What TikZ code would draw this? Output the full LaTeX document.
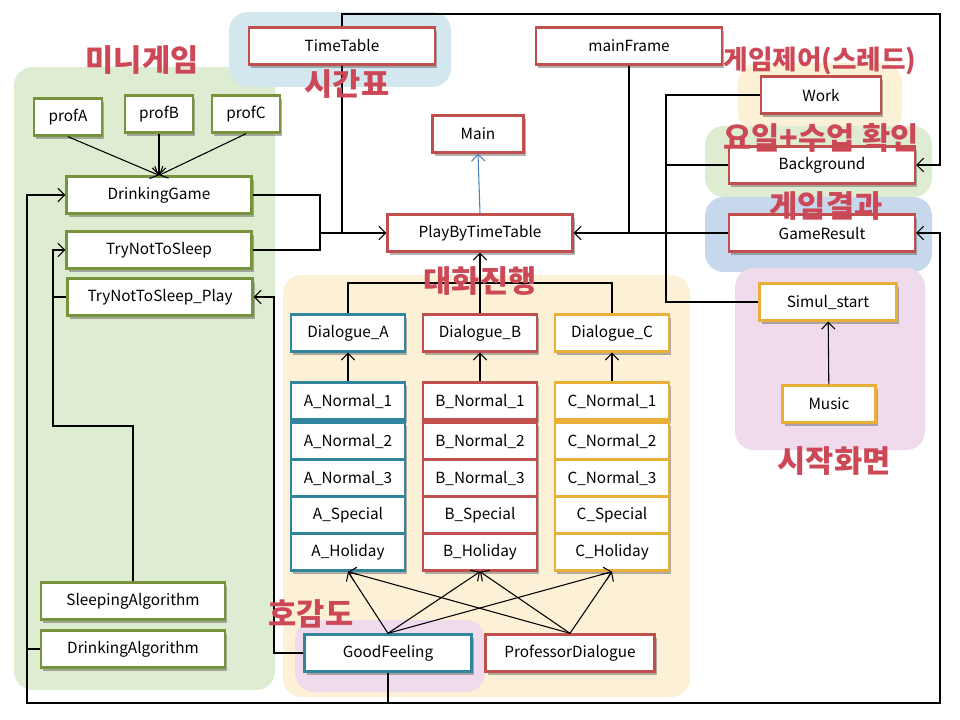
\documentclass[tikz,border=0pt]{standalone}
\usepackage{fontspec}
\setmainfont{Noto Sans CJK KR}
\usepackage{tikz}
\usetikzlibrary{arrows.meta}
\usetikzlibrary{shadows}

\definecolor{boxred}{RGB}{192,80,77}
\definecolor{boxgreen}{RGB}{119,147,60}
\definecolor{boxteal}{RGB}{49,133,156}
\definecolor{boxorange}{RGB}{232,176,56}
\definecolor{tagred}{RGB}{205,72,86}
\definecolor{arrowblue}{RGB}{79,129,189}
\definecolor{bggreen}{RGB}{222,236,209}
\definecolor{bgsky}{RGB}{211,232,238}
\definecolor{bgbeige}{RGB}{252,240,215}
\definecolor{bgblue}{RGB}{199,215,236}
\definecolor{bgpink}{RGB}{240,219,236}

\begin{document}
\begin{tikzpicture}[x=0.75pt,y=-0.75pt,line width=0.8pt,
	>={Straight Barb[length=5pt,width=10pt]},
	box/.style={draw,fill=white,line width=1.8pt,inner sep=0pt,minimum height=27.75pt,
		font=\fontsize{11.5}{13}\selectfont,
		drop shadow={shadow xshift=1.5pt,shadow yshift=-2.4pt,fill=black!60,opacity=0.5}},
	redbox/.style={box,draw=boxred},
	greenbox/.style={box,draw=boxgreen},
	tealbox/.style={box,draw=boxteal},
	orangebox/.style={box,draw=boxorange},
	area/.style={fill=#1,rounded corners=14pt},
	tag/.style={text=tagred,inner sep=0pt,font=\fontsize{23}{23}\selectfont\bfseries}]
			\useasboundingbox (0,0) rectangle (960,720);
			
			% areas
			
			\fill[area=bggreen] (14,67) rectangle (275,690);
			\fill[area=bgsky] (229,12) rectangle (451,87);
			\fill[area=bgbeige] (283,275) rectangle (690,697);
			\fill[area=bgbeige] (738,63) rectangle (902,132);
			\fill[area=bggreen] (705,126) rectangle (932,197);
			\fill[area=bgblue] (705,197) rectangle (932,272);
			\fill[area=bgpink] (735,268) rectangle (925,450);
			\fill[area=bgpink] (295,620) rectangle (485,692);
			
			% boxes
			
			\node[redbox,minimum width=139.5pt] (TimeTable) at (342,46) {TimeTable};
			\node[redbox,minimum width=139.5pt] (mainFrame) at (629,46) {mainFrame};
			\node[redbox,minimum width=68.25pt] (Main) at (478,134) {Main};
			\node[redbox,minimum width=138.75pt] (PlayByTimeTable) at (480,233) {PlayByTimeTable};
			\node[redbox,minimum width=90pt] (Work) at (821,95) {Work};
			\node[redbox,minimum width=139.5pt] (Background) at (822,165) {Background};
			\node[redbox,minimum width=139.5pt] (GameResult) at (822,233) {GameResult};
			\node[orangebox,minimum width=102.75pt] (Simul_start) at (828,302) {Simul\_start};
			\node[orangebox,minimum width=69.75pt] (Music) at (829,404) {Music};
			
			\node[greenbox,minimum width=51pt] (profA) at (68,117) {profA};
			\node[greenbox,minimum width=51pt] (profB) at (159,114) {profB};
			\node[greenbox,minimum width=51pt] (profC) at (246,114) {profC};
			\node[greenbox,minimum width=138.75pt] (DrinkingGame) at (159,195) {DrinkingGame};
			\node[greenbox,minimum width=138.75pt] (TryNotToSleep) at (159,250) {TryNotToSleep};
			\node[greenbox,minimum width=138.75pt] (TryNotToSleep_Play) at (160,297) {TryNotToSleep\_Play};
			\node[greenbox,minimum width=138pt] (SleepingAlgorithm) at (133,601) {SleepingAlgorithm};
			\node[greenbox,minimum width=138pt] (DrinkingAlgorithm) at (133,649) {DrinkingAlgorithm};
			
			\foreach \c/\x/\st in {A/348/tealbox,B/480/redbox,C/612/orangebox} {
				\node[\st,minimum width=85.5pt] (D\c) at (\x,333) {Dialogue\_\c};
				\node[\st,minimum width=85.5pt] (\c1) at (\x,401) {\c\_Normal\_1};
				\node[\st,minimum width=85.5pt] (\c2) at (\x,441) {\c\_Normal\_2};
				\node[\st,minimum width=85.5pt] (\c3) at (\x,478) {\c\_Normal\_3};
				\node[\st,minimum width=85.5pt] (\c S) at (\x,515) {\c\_Special};
				\node[\st,minimum width=85.5pt] (\c H) at (\x,552) {\c\_Holiday};
				\draw[->] (\c1) -- (D\c);
			}
			
			\node[tealbox,minimum width=125.25pt] (GoodFeeling) at (388,653) {GoodFeeling};
			\node[redbox,minimum width=126.75pt] (ProfessorDialogue) at (570,653) {ProfessorDialogue};
			
			% connectors
			
			\coordinate (topL) at (342,14);
			\coordinate (topR) at (940,14);
			\coordinate (joinL) at (320,233);
			\coordinate (ctlTop) at (666,95);
			\coordinate (ctlBot) at (666,302);
			\coordinate (botL) at (27,703);
			\coordinate (botR) at (940,703);
			\coordinate (sleepBend) at (53,426);
			\coordinate (likeBend) at (274,653);
			\coordinate (dlgBus) at (480,283);
			
			\draw[->] (TimeTable.north) -- (topL) -- (topR) |- (Background.east);
			\draw (TimeTable.south) -- (TimeTable.south |- joinL);
			\draw (DrinkingGame.east) -| (joinL);
			\draw (TryNotToSleep.east) -| (joinL);
			\draw[->] (joinL) -- (PlayByTimeTable.west);
			
			\draw[->] (GameResult.west) -- (PlayByTimeTable.east);
			\draw (mainFrame.south) -- (mainFrame.south |- PlayByTimeTable.east);
			\draw (Work.west) -- (ctlTop) -- (ctlBot) -- (Simul_start.west);
			\draw (Background.west) -- (Background.west -| ctlTop);
			\draw[->] (Music) -- (Simul_start);
			
			\draw[->,arrowblue] (PlayByTimeTable.north) -- (Main.south);
			\draw (DA.north) |- (dlgBus) -| (DC.north);
			\draw[->] (DB.north) -- (PlayByTimeTable.south);
			
			\foreach \p in {A,B,C}
				\draw[->] (prof\p.south) -- (DrinkingGame.north);
			
			\draw[<->] (DrinkingGame.west) -| (botL) -- (botR) |- (GameResult.east);
			\draw (GoodFeeling.south) -- (GoodFeeling.south |- botL);
			\draw (DrinkingAlgorithm.west) -- (DrinkingAlgorithm.west -| botL);
			
			\draw[->] (SleepingAlgorithm.north) |- (sleepBend) |- (TryNotToSleep.west);
			\draw (TryNotToSleep_Play.west) -- (TryNotToSleep_Play.west -| sleepBend);
			\draw[->] (GoodFeeling.west) -- (likeBend) |- (TryNotToSleep_Play.east);
			
			\foreach \c in {A,B,C} {
				\draw[->] (GoodFeeling.north) -- (\c H.south);
				\draw[->] (ProfessorDialogue.north) -- (\c H.south);
			}
			
			% tags
			
			\node[tag] (tagMini) at (142,60) {미니게임};
			\node[tag] (tagTime) at (347,84) {시간표};
			\node[tag,font=\fontsize{20}{20}\selectfont\bfseries] (tagCtl) at (820,61) {게임제어(스레드)};
			\node[tag] (tagDay) at (821,138) {요일+수업 확인};
			\node[tag] (tagResult) at (826,206) {게임결과};
			\node[tag] (tagTalk) at (480,281) {대화진행};
			\node[tag] (tagStart) at (834,461) {시작화면};
			\node[tag] (tagLike) at (311,614) {호감도};
		\end{tikzpicture}
\end{document}
